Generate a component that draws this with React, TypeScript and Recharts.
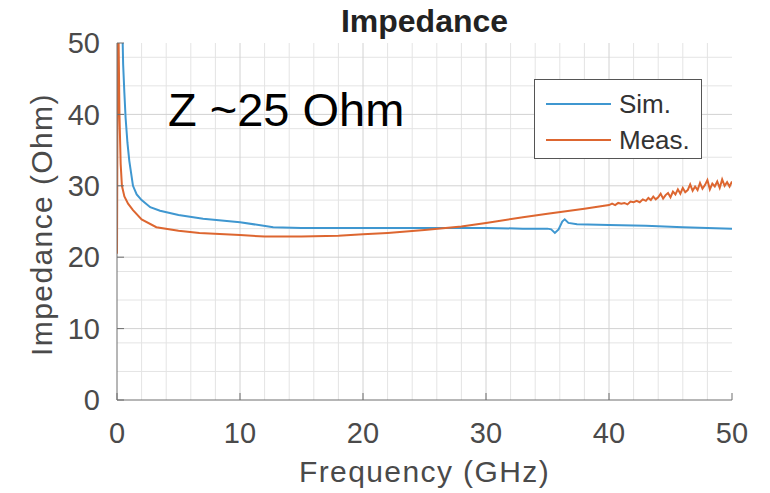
import {
  LineChart, Line, XAxis, YAxis, CartesianGrid, Legend, Label,
} from "recharts";

const X_TICKS = [0, 10, 20, 30, 40, 50];
const Y_TICKS = [0, 10, 20, 30, 40, 50];
const MINOR_GRID = [2, 4, 6, 8, 12, 14, 16, 18, 22, 24, 26, 28, 32, 34, 36, 38, 42, 44, 46, 48];
const MAJOR_GRID = [10, 20, 30, 40];

// simulated impedance (GHz, Ohm)
const SIM_FREQ = [0.4, 0.5, 0.6, 0.7, 0.85, 1.0, 1.3, 1.6, 2.0, 2.7, 3.5, 5, 7, 10, 12.7, 15, 20, 25, 30, 33, 35, 35.3, 35.6, 35.9, 36.2, 36.4, 36.7, 37.4, 40, 43, 46, 50];
const SIM_Z = [55, 47, 43, 39.5, 36, 33.5, 30, 28.8, 28, 27, 26.5, 25.9, 25.4, 24.9, 24.2, 24.1, 24.1, 24.1, 24.1, 24.0, 24.0, 23.9, 23.4, 23.9, 25.0, 25.3, 24.8, 24.6, 24.5, 24.4, 24.2, 24.0];

// measured impedance (GHz, Ohm), noisy above ~40 GHz
const MEAS_FREQ = [
  0, 0.05, 0.1, 0.2, 0.3, 0.4, 0.6, 0.9, 1.3, 2, 3.2, 5, 6.7, 10, 12, 15, 18, 20, 22, 25, 28, 30, 33, 35, 38,
  40, 40.25, 40.5, 40.75, 41, 41.25, 41.5, 41.75, 42, 42.25, 42.5, 42.75,
  43, 43.2, 43.4, 43.6, 43.8, 44, 44.2, 44.4, 44.6, 44.8, 45, 45.2, 45.4, 45.6, 45.8,
  46, 46.2, 46.4, 46.6, 46.8, 47, 47.2, 47.4, 47.6, 47.8, 48, 48.2, 48.4, 48.6, 48.8,
  49, 49.2, 49.4, 49.6, 49.8, 50,
];
const MEAS_Z = [
  20.5, 45, 55, 40, 33, 30, 28.5, 27.5, 26.6, 25.3, 24.2, 23.7, 23.4, 23.1, 22.9, 22.9, 23.0, 23.2, 23.4, 23.8, 24.3, 24.8, 25.6, 26.1, 26.8,
  27.3, 27.5, 27.3, 27.6, 27.5, 27.6, 27.4, 27.8, 27.7, 27.9, 27.7, 28.1,
  27.9, 28.3, 28.0, 28.5, 28.1, 28.4, 28.9, 28.2, 28.7, 29.0, 28.4, 29.2, 28.8, 29.5, 28.9,
  29.7, 29.1, 29.4, 30.2, 29.3, 29.9, 29.4, 30.4, 29.6, 30.1, 30.8, 29.5, 30.3, 29.9, 30.6,
  29.7, 30.9, 30.0, 30.5, 29.9, 30.6,
];

const SIM_COLOR = "#3f97d0";
const MEAS_COLOR = "#dd6630";
const AXIS_COLOR = "#6e6e6e";
const TEXT_COLOR = "#4a4a4a";
const FONT = "'Liberation Sans', Arial, Helvetica, sans-serif";

const simData = SIM_FREQ.map((f, i) => ({ f, z: SIM_Z[i] }));
const measData = MEAS_FREQ.map((f, i) => ({ f, z: MEAS_Z[i] }));

const LEGEND_ITEMS = [
  { name: "Sim.", color: SIM_COLOR },
  { name: "Meas.", color: MEAS_COLOR },
];

function LegendBox() {
  return (
    <div
      style={{
        width: 168,
        height: 80,
        border: "1px solid #555",
        background: "#fff",
        fontFamily: FONT,
        fontSize: 26,
        color: "#333",
        paddingTop: 6,
        boxSizing: "border-box",
      }}
    >
      {LEGEND_ITEMS.map((it) => (
        <div key={it.name} style={{ display: "flex", alignItems: "center", height: 36 }}>
          <div style={{ width: 65, height: 2, background: it.color, marginLeft: 11, marginRight: 8 }} />
          <span>{it.name}</span>
        </div>
      ))}
    </div>
  );
}

const tickStyle = { fontSize: 29, fill: TEXT_COLOR, fontFamily: FONT };
const labelStyle = { fontSize: 30, fill: TEXT_COLOR, fontFamily: FONT, letterSpacing: 1.4 };

export default function App() {
  return (
    <div style={{ position: "absolute", left: 0, top: 0, width: 770, height: 493, background: "#fff" }}>
      <LineChart width={770} height={493} margin={{ top: 43, right: 38, bottom: 0, left: 0 }}>
        <CartesianGrid horizontalValues={MINOR_GRID} verticalValues={MINOR_GRID} stroke="#e4e4e4" />
        <CartesianGrid horizontalValues={MAJOR_GRID} verticalValues={MAJOR_GRID} stroke="#d2d2d2" />
        <XAxis
          dataKey="f"
          type="number"
          domain={[0, 50]}
          ticks={X_TICKS}
          allowDataOverflow
          height={93}
          tickSize={-7}
          tickMargin={29}
          tick={tickStyle}
          stroke={AXIS_COLOR}
        >
          <Label value="Frequency (GHz)" position="insideBottom" offset={11} style={labelStyle} />
        </XAxis>
        <XAxis
          xAxisId="top"
          orientation="top"
          dataKey="f"
          type="number"
          domain={[0, 50]}
          ticks={X_TICKS}
          height={0}
          tickSize={-7}
          tickFormatter={() => ""}
          stroke={AXIS_COLOR}
        />
        <YAxis
          type="number"
          domain={[0, 50]}
          ticks={Y_TICKS}
          allowDataOverflow
          width={117}
          tickSize={-7}
          tickMargin={24}
          tick={tickStyle}
          stroke={AXIS_COLOR}
        >
          <Label
            value="Impedance (Ohm)"
            angle={-90}
            position="center"
            dx={-17}
            dy={3}
            style={{ ...labelStyle, textAnchor: "middle" }}
          />
        </YAxis>
        <YAxis
          yAxisId="right"
          orientation="right"
          type="number"
          domain={[0, 50]}
          ticks={Y_TICKS}
          width={0}
          tickSize={-7}
          tickFormatter={() => ""}
          stroke={AXIS_COLOR}
        />
        <Legend
          layout="horizontal"
          verticalAlign="middle"
          align="center"
          content={() => <LegendBox />}
          wrapperStyle={{ left: 534, top: 79, width: 170, height: 82 }}
        />
        <Line
          data={simData}
          dataKey="z"
          name="Sim."
          type="linear"
          stroke={SIM_COLOR}
          strokeWidth={2}
          dot={false}
          isAnimationActive={false}
        />
        <Line
          data={measData}
          dataKey="z"
          name="Meas."
          type="linear"
          stroke={MEAS_COLOR}
          strokeWidth={2}
          dot={false}
          isAnimationActive={false}
        />
      </LineChart>
      <div
        style={{
          position: "absolute", left: 0, width: 849, top: 3, textAlign: "center",
          fontFamily: FONT, fontWeight: "bold", fontSize: 32, color: "#222",
        }}
      >
        Impedance
      </div>
      <div
        style={{
          position: "absolute", left: 168, top: 86,
          fontFamily: FONT, fontSize: 47, color: "#000", lineHeight: 1,
        }}
      >
        Z ~25 Ohm
      </div>
    </div>
  );
}
